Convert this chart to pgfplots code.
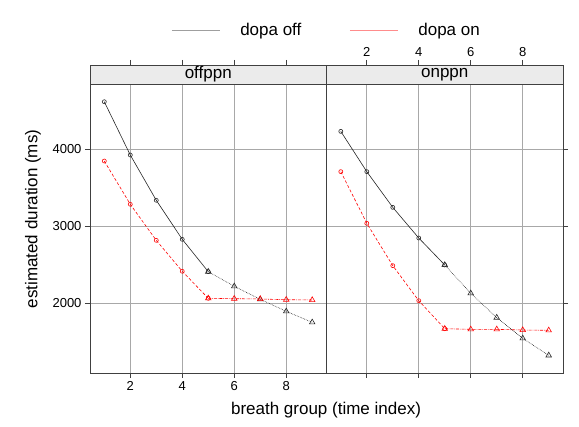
\documentclass[border=0pt]{standalone}
\usepackage{fontspec}
\setmainfont{Liberation Sans}
\usepackage{pgfplots}
\pgfplotsset{compat=1.18}

\definecolor{gridgray}{HTML}{A8A8A8}
\definecolor{stripfill}{HTML}{EBEBEB}
\definecolor{frame}{HTML}{404040}

\pgfplotsset{
  panel/.style={
    scale only axis, width=236.5pt, height=308pt, anchor=south west,
    xmin=0.45, xmax=9.55, ymin=1091, ymax=5091,
    xtick={2,4,6,8}, ytick={2000,3000,4000},
    grid=major, grid style={gridgray, line width=0.6pt},
    tick align=outside, major tick length=5pt,
    tick style={frame, line width=0.6pt},
    axis line style={frame, line width=0.6pt},
    ticklabel style={font=\fontsize{13}{15}\selectfont},
    /pgf/number format/assume math mode=true,
    /pgf/number format/set thousands separator={},
    clip=false,
  },
  offcirc/.style={black!85, line width=0.6pt, solid, mark=o, mark size=2pt, mark options={solid}},
  offtri/.style={black!85, line width=0.6pt, densely dotted, mark=triangle, mark size=3.2pt, mark options={solid}},
  oncirc/.style={red, line width=0.6pt, densely dashed, mark=o, mark size=2pt, mark options={solid}},
  ontri/.style={red, line width=0.6pt, densely dashdotted, mark=triangle, mark size=3.2pt, mark options={solid}},
}
\newcommand\strip[1]{%
  \filldraw[fill=stripfill, draw=frame, line width=0.6pt] (rel axis cs:0,0.9383) rectangle (rel axis cs:1,1);
  \node[font=\fontsize{17}{20}\selectfont] at (rel axis cs:0.5,0.9692) {#1};}

\begin{document}
\begin{tikzpicture}
\useasboundingbox (0,0) rectangle (579pt,427pt);

% offppn panel
\begin{axis}[panel, at={(90pt,54pt)},
  xtick pos=both, xticklabel pos=bottom,
  ytick pos=left,
  ylabel={estimated duration (ms)},
  ylabel style={font=\fontsize{17}{20}\selectfont, at={(axis description cs:-0.241,0.5)}, anchor=center},
  xlabel={breath group (time index)},
  xlabel style={font=\fontsize{17}{20}\selectfont, at={(axis description cs:0.998,0)}, anchor=base, yshift=-42pt},
  legend columns=2,
  legend style={draw=none, fill=none, at={(axis description cs:0.996,1.1136)}, anchor=center,
    font=\fontsize{17}{20}\selectfont, nodes={inner sep=0pt},
    /tikz/every odd column/.append style={column sep=20pt},
    /tikz/every even column/.append style={column sep=48pt}},
  legend image code/.code={\draw[#1] (0pt,0pt) -- (48pt,0pt);},
]
\addlegendimage{gray!75, line width=1pt}
\addlegendentry{dopa off}
\addlegendimage{red!45, line width=1pt}
\addlegendentry{dopa on}
\strip{offppn}
\addplot[offcirc, forget plot] coordinates {(1,4614) (2,3922) (3,3334) (4,2827) (5,2407)};
\addplot[offtri, forget plot] coordinates {(5,2407) (6,2217) (7,2048) (8,1892) (9,1749)};
\addplot[oncirc, forget plot] coordinates {(1,3844) (2,3282) (3,2814) (4,2412) (5,2061)};
\addplot[ontri, forget plot] coordinates {(5,2061) (6,2056) (7,2052) (8,2043) (9,2039)};
\end{axis}

% onppn panel
\begin{axis}[panel, at={(326.5pt,54pt)},
  xtick pos=both, xticklabel pos=top,
  ytick pos=right, yticklabels={},
]
\strip{onppn}
\addplot[offcirc] coordinates {(1,4229) (2,3706) (3,3242) (4,2844) (5,2494)};
\addplot[offtri] coordinates {(5,2494) (6,2126) (7,1810) (8,1541) (9,1320)};
\addplot[oncirc] coordinates {(1,3706) (2,3035) (3,2485) (4,2030) (5,1666)};
\addplot[ontri] coordinates {(5,1666) (6,1658) (7,1658) (8,1649) (9,1645)};
\end{axis}
\end{tikzpicture}
\end{document}
